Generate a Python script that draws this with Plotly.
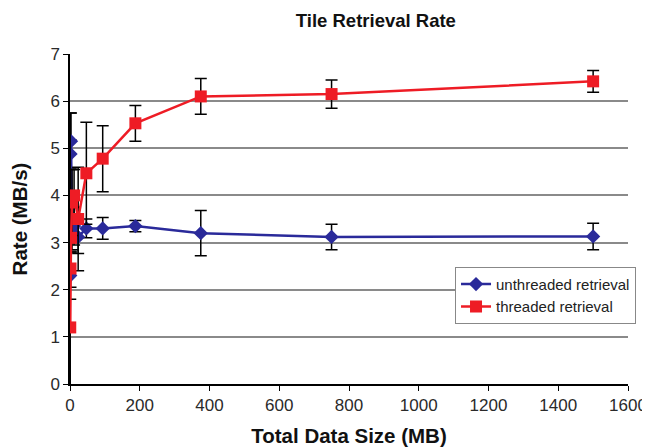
import plotly.graph_objects as go

data_size = [0.73, 1.46, 2.93, 5.86, 11.7, 23.4, 46.9, 93.75, 187.5, 375, 750, 1500]

unthreaded = [2.30, 4.88, 5.15, 3.40, 3.35, 3.12, 3.30, 3.30, 3.35, 3.20, 3.12, 3.13]
unthreaded_err = [0.50, 0.30, 0.60, 0.55, 0.40, 0.35, 0.20, 0.23, 0.12, 0.48, 0.27, 0.28]

threaded = [1.20, 2.45, 3.10, 3.85, 4.00, 3.50, 4.47, 4.78, 5.53, 6.10, 6.15, 6.42]
threaded_err = [4.55, 0.40, 0.30, 0.70, 0.55, 1.10, 1.08, 0.70, 0.38, 0.38, 0.30, 0.23]

fig = go.Figure()
fig.add_trace(go.Scatter(
    x=data_size, y=unthreaded, mode="lines+markers", name="unthreaded retrieval",
    line=dict(color="#2a2a9a", width=2.5),
    marker=dict(symbol="diamond", size=11, color="#2a2a9a"),
    error_y=dict(type="data", array=unthreaded_err, color="black", thickness=1.5, width=6),
))
fig.add_trace(go.Scatter(
    x=data_size, y=threaded, mode="lines+markers", name="threaded retrieval",
    line=dict(color="#ee1c25", width=2.5),
    marker=dict(symbol="square", size=12, color="#ee1c25"),
    error_y=dict(type="data", array=threaded_err, color="black", thickness=1.5, width=6),
))

fig.update_layout(
    width=642, height=439,
    margin=dict(l=62, r=22, t=46, b=63),
    paper_bgcolor="white", plot_bgcolor="white",
    font=dict(family="Liberation Sans, Arial", size=17, color="#2a2a2a"),
    title=dict(text="<b>Tile Retrieval Rate</b>", x=0.573, xanchor="center", y=0.972, yanchor="middle",
               font=dict(size=18.5, color="#111")),
    xaxis=dict(range=[0, 1600], tickvals=[0, 200, 400, 600, 800, 1000, 1200, 1400, 1600],
               showgrid=False, showline=True, linecolor="black", linewidth=1.5,
               ticks="outside", ticklen=5, tickcolor="black", zeroline=False, automargin=False,
               tickfont=dict(size=17),
               title=dict(text="<b>Total Data Size (MB)</b>", font=dict(size=20.5, color="#111"), standoff=15)),
    yaxis=dict(range=[0, 7], dtick=1, showgrid=True, gridcolor="#8a8a8a", gridwidth=1.5,
               showline=True, linecolor="black", linewidth=1.5,
               ticks="outside", ticklen=5, tickcolor="black", zeroline=False, automargin=False,
               tickfont=dict(size=17),
               title=dict(text="<b>Rate (MB/s)</b>", font=dict(size=20.5, color="#111"), standoff=20)),
    legend=dict(x=0.69, y=0.355, xanchor="left", yanchor="top", bgcolor="white",
                bordercolor="#888", borderwidth=1, font=dict(size=15, color="#222"),
                tracegroupgap=0, itemwidth=30),
    showlegend=True,
)

fig.write_html("out.html")
